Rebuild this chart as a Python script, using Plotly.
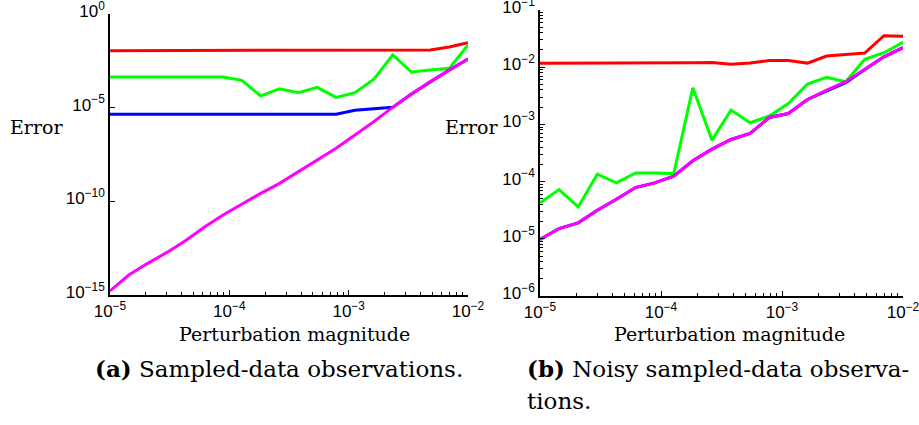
import plotly.graph_objects as go

# Perturbation magnitudes (20 log-spaced samples between 1e-5 and 1e-2)
perturbation = [1.0e-5, 1.4384e-5, 2.0691e-5, 2.9764e-5, 4.2813e-5, 6.1585e-5,
                8.8587e-5, 1.2743e-4, 1.8330e-4, 2.6367e-4, 3.7927e-4, 5.4556e-4,
                7.8476e-4, 1.1288e-3, 1.6238e-3, 2.3357e-3, 3.3598e-3, 4.8329e-3,
                6.9519e-3, 1.0e-2]

# (a) Sampled-data observations
a_red = [1.10e-2, 1.10e-2, 1.10e-2, 1.10e-2, 1.10e-2, 1.10e-2, 1.10e-2, 1.10e-2,
         1.10e-2, 1.10e-2, 1.10e-2, 1.10e-2, 1.10e-2, 1.10e-2, 1.10e-2, 1.10e-2,
         1.10e-2, 1.20e-2, 1.73e-2, 2.95e-2]
a_green = [4.34e-4, 4.34e-4, 4.34e-4, 4.34e-4, 4.34e-4, 4.34e-4, 4.34e-4, 2.88e-4,
           4.20e-5, 1.03e-4, 6.32e-5, 1.22e-4, 3.56e-5, 6.32e-5, 3.25e-4, 6.48e-3,
           8.02e-4, 1.03e-3, 1.26e-3, 2.21e-2]
a_blue = [4.41e-6, 4.41e-6, 4.41e-6, 4.41e-6, 4.41e-6, 4.41e-6, 4.41e-6, 4.41e-6,
          4.41e-6, 4.41e-6, 4.41e-6, 4.41e-6, 4.41e-6, 7.21e-6, 8.85e-6, 1.04e-5,
          5.37e-5, 2.45e-4, 1.03e-3, 3.96e-3]
a_magenta = [1.64e-15, 1.17e-14, 4.90e-14, 1.82e-13, 7.94e-13, 4.09e-12, 1.86e-11,
             7.21e-11, 2.67e-10, 9.14e-10, 3.84e-9, 1.61e-8, 6.75e-8, 3.47e-7,
             1.79e-6, 1.04e-5, 5.37e-5, 2.45e-4, 1.03e-3, 3.96e-3]

# (b) Noisy sampled-data observations
b_red = [1.17e-2, 1.17e-2, 1.17e-2, 1.17e-2, 1.20e-2, 1.18e-2, 1.18e-2, 1.18e-2,
         1.20e-2, 1.21e-2, 1.13e-2, 1.18e-2, 1.31e-2, 1.31e-2, 1.18e-2, 1.57e-2,
         1.68e-2, 1.77e-2, 3.56e-2, 3.46e-2]
b_green = [4.25e-5, 7.26e-5, 3.61e-5, 1.35e-4, 9.50e-5, 1.42e-4, 1.42e-4, 1.38e-4,
           4.38e-3, 5.31e-4, 1.78e-3, 1.07e-3, 1.40e-3, 2.32e-3, 5.07e-3, 6.63e-3,
           5.57e-3, 1.37e-2, 1.79e-2, 2.72e-2]
b_blue = [9.7e-6, 1.51e-5, 1.90e-5, 3.16e-5, 4.92e-5, 7.87e-5, 9.5e-5, 1.24e-4,
          2.31e-4, 3.69e-4, 5.45e-4, 6.93e-4, 1.32e-3, 1.55e-3, 2.73e-3, 3.85e-3,
          5.35e-3, 9.15e-3, 1.52e-2, 2.19e-2]
b_magenta = [9.7e-6, 1.51e-5, 1.90e-5, 3.16e-5, 4.92e-5, 7.87e-5, 9.5e-5, 1.24e-4,
             2.31e-4, 3.69e-4, 5.45e-4, 6.93e-4, 1.32e-3, 1.55e-3, 2.73e-3, 3.98e-3,
             5.57e-3, 9.15e-3, 1.52e-2, 2.19e-2]

# Tick labels
x_major = [1e-5, 1e-4, 1e-3, 1e-2]
x_major_text = ["10<sup>−5</sup>", "10<sup>−4</sup>", "10<sup>−3</sup>", "10<sup>−2</sup>"]
a_y_major = [1e-15, 1e-10, 1e-5, 1e0]
a_y_major_text = ["10<sup>−15</sup>", "10<sup>−10</sup>", "10<sup>−5</sup>", "10<sup>0</sup>"]
b_y_major = [1e-6, 1e-5, 1e-4, 1e-3, 1e-2, 1e-1]
b_y_major_text = ["10<sup>−6</sup>", "10<sup>−5</sup>", "10<sup>−4</sup>",
                  "10<sup>−3</sup>", "10<sup>−2</sup>", "10<sup>−1</sup>"]

COLORS = {"red": "#ff0000", "green": "#00ff00", "blue": "#0000ff", "magenta": "#ff00ff"}
LINE_W = 3


def minor_values(lo_exp, hi_exp):
    return [m * 10.0 ** e for e in range(lo_exp, hi_exp) for m in range(2, 10)]


fig = go.Figure()

panels = [
    ("x", "y", [("red", a_red), ("green", a_green), ("blue", a_blue), ("magenta", a_magenta)]),
    ("x2", "y2", [("red", b_red), ("green", b_green), ("blue", b_blue), ("magenta", b_magenta)]),
]
for xa, ya, series in panels:
    for name, vals in series:
        fig.add_trace(go.Scatter(
            x=perturbation, y=vals, xaxis=xa, yaxis=ya, mode="lines",
            line=dict(color=COLORS[name], width=LINE_W), showlegend=False,
            hoverinfo="skip",
        ))

tick_font = dict(family="Liberation Sans, Arial, sans-serif", size=17, color="black")
axis_common = dict(
    type="log", showgrid=False, zeroline=False, showline=True, linecolor="black",
    linewidth=1.5, ticks="inside", ticklen=5, tickwidth=1, tickcolor="black",
    tickfont=tick_font, tickmode="array", mirror=False, automargin=False,
    ticklabeloverflow="allow",
)
minor_style = dict(ticks="inside", ticklen=3, tickwidth=1, tickcolor="black", tickmode="array")

fig.update_layout(
    template="none",
    width=919, height=425,
    margin=dict(l=0, r=0, t=0, b=0, pad=0),
    paper_bgcolor="white", plot_bgcolor="white",
    xaxis=dict(axis_common, domain=[110 / 919, 468 / 919], range=[-5, -2],
               tickvals=x_major, ticktext=x_major_text, anchor="y",
               minor=dict(minor_style, tickvals=minor_values(-5, -2))),
    yaxis=dict(axis_common, domain=[1 - 295 / 425, 1 - 14 / 425], range=[-15, 0],
               tickvals=a_y_major, ticktext=a_y_major_text, anchor="x",
               ticklabelshift=-3),
    xaxis2=dict(axis_common, domain=[540 / 919, 903 / 919], range=[-5, -2],
                tickvals=x_major, ticktext=x_major_text, anchor="y2",
                minor=dict(minor_style, tickvals=minor_values(-5, -2))),
    yaxis2=dict(axis_common, domain=[1 - 296 / 425, 1 - 10 / 425], range=[-6, -1],
                tickvals=b_y_major, ticktext=b_y_major_text, anchor="x2",
                ticklabelshift=-3,
                minor=dict(minor_style, tickvals=minor_values(-6, -1))),
)

serif = "DejaVu Serif, Liberation Serif, serif"
label_font = dict(family=serif, size=19, color="black")
caption_font = dict(family=serif, size=23, color="black")

annotations = [
    dict(text="Error", x=36 / 919, y=1 - 127 / 425, font=label_font),
    dict(text="Error", x=471 / 919, y=1 - 127 / 425, font=label_font),
    dict(text="Perturbation magnitude", x=294 / 919, y=1 - 334 / 425, font=label_font),
    dict(text="Perturbation magnitude", x=729 / 919, y=1 - 334 / 425, font=label_font),
    dict(text="<b>(a)</b> Sampled-data observations.", x=279 / 919, y=1 - 368 / 425,
         font=caption_font),
    dict(text="<b>(b)</b> Noisy sampled-data observa-", x=525 / 919, y=1 - 368 / 425,
         xanchor="left", font=caption_font),
    dict(text="tions.", x=525 / 919, y=1 - 401 / 425, xanchor="left", font=caption_font),
]
for ann in annotations:
    ann.setdefault("xanchor", "center")
    fig.add_annotation(xref="paper", yref="paper", showarrow=False, yanchor="middle", **ann)

fig.write_html("out.html")
